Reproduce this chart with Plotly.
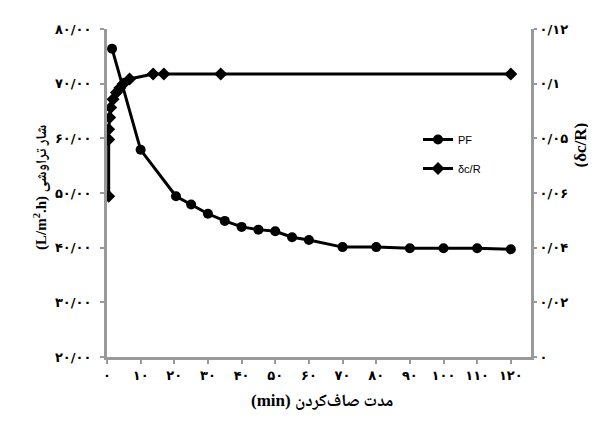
import plotly.graph_objects as go

# Data
pf_time = [1.5, 10, 20.5, 25, 30, 35, 40, 45, 50, 55, 60, 70, 80, 90, 100, 110, 120]
pf_flux = [76.4, 57.9, 49.4, 47.9, 46.2, 44.9, 43.8, 43.3, 43.0, 41.9, 41.4, 40.1, 40.1, 39.9, 39.9, 39.9, 39.7]

dr_time = [0.5, 0.5, 0.5, 0.8, 1.1, 1.8, 2.8, 3.8, 4.8, 6.7, 13.7, 16.9, 33.8, 120]
dr_val = [0.0588, 0.0796, 0.0833, 0.0876, 0.0913, 0.0943, 0.0968, 0.0984, 0.0999, 0.1017, 0.1035, 0.1035, 0.1035, 0.1035]

x_ticks = [0, 10, 20, 30, 40, 50, 60, 70, 80, 90, 100, 110, 120]
x_labels = ["۰", "۱۰", "۲۰", "۳۰", "۴۰", "۵۰", "۶۰", "۷۰", "۸۰", "۹۰", "۱۰۰", "۱۱۰", "۱۲۰"]
y_ticks = [20, 30, 40, 50, 60, 70, 80]
y_labels = ["۲۰/۰۰", "۳۰/۰۰", "۴۰/۰۰", "۵۰/۰۰", "۶۰/۰۰", "۷۰/۰۰", "۸۰/۰۰"]
y2_ticks = [0, 0.02, 0.04, 0.06, 0.08, 0.10, 0.12]
y2_labels = ["۰", "۰/۰۲", "۰/۰۴", "۰/۰۶", "۰/۰۵", "۰/۱", "۰/۱۲"]

AX = "#999999"
TICKFONT = dict(family="DejaVu Sans", size=13, color="black", weight="bold")

fig = go.Figure()
fig.add_trace(go.Scatter(
    x=dr_time, y=dr_val, yaxis="y2", name="δc/R", mode="lines+markers",
    line=dict(color="black", width=3), marker=dict(symbol="diamond", size=10, color="black"),
    legendgroup="b", legendrank=2,
))
fig.add_trace(go.Scatter(
    x=pf_time, y=pf_flux, name="PF", mode="lines+markers",
    line=dict(color="black", width=3), marker=dict(symbol="circle", size=10, color="black"),
    legendgroup="a", legendrank=1,
))

L, R, T, B = 99, 73, 21, 76
W, H = 596, 425
pw, ph = W - L - R, H - T - B

def px(xp):
    return (xp - L) / pw

def py(yp):
    return (H - B - yp) / ph

fig.update_layout(
    width=W, height=H,
    margin=dict(l=L, r=R, t=T, b=B),
    paper_bgcolor="white", plot_bgcolor="white",
    showlegend=True,
    legend=dict(x=px(410), y=py(117), xanchor="left", yanchor="top",
                font=dict(family="Liberation Sans Narrow, Liberation Sans, Arial", size=11, color="black"),
                bgcolor="rgba(0,0,0,0)", tracegroupgap=10, itemwidth=30, traceorder="grouped"),
    xaxis=dict(range=[0, 126], tickvals=x_ticks, ticktext=x_labels, tickfont=TICKFONT,
               showline=True, linecolor=AX, linewidth=3, ticks="outside", tickcolor=AX,
               ticklen=4, tickwidth=2, showgrid=False, zeroline=False),
    yaxis=dict(range=[20, 80], tickvals=y_ticks, ticktext=y_labels, tickfont=TICKFONT,
               showline=True, linecolor=AX, linewidth=3, ticks="outside", tickcolor=AX,
               ticklen=4, tickwidth=2, showgrid=False, zeroline=False, ticklabelstandoff=6),
    yaxis2=dict(range=[0, 0.12], tickvals=y2_ticks, ticktext=y2_labels, tickfont=TICKFONT,
                overlaying="y", side="right", showline=True, linecolor=AX, linewidth=3,
                ticks="outside", tickcolor=AX, ticklen=3, tickwidth=2, showgrid=False, zeroline=False),
)

LAT = "font-family:'Liberation Serif'"
FA = "font-family:'Noto Naskh Arabic','Noto Sans Arabic','DejaVu Sans'"
fig.add_annotation(text=f"<span style=\"{LAT}\">(L/m<sup>2</sup>.h)</span> <span style=\"{FA}\">شار تراوشی</span>",
                   xref="paper", yref="paper",
                   x=px(20), y=py(180), textangle=-90, showarrow=False,
                   font=dict(family="Liberation Serif, DejaVu Sans", size=15, color="black", weight="bold"))
fig.add_annotation(text="(δc/R)", xref="paper", yref="paper",
                   x=px(583), y=py(137), textangle=-90, showarrow=False,
                   font=dict(family="Liberation Serif, DejaVu Serif", size=17, color="black", weight="bold"))
fig.add_annotation(text=f"<span style=\"{LAT}\">(min)</span> <span style=\"{FA}\">مدت صاف‌کردن</span>",
                   xref="paper", yref="paper",
                   x=px(314), y=py(411), showarrow=False,
                   font=dict(family="Liberation Serif, DejaVu Sans", size=17, color="black", weight="bold"))

fig.write_html("out.html")
